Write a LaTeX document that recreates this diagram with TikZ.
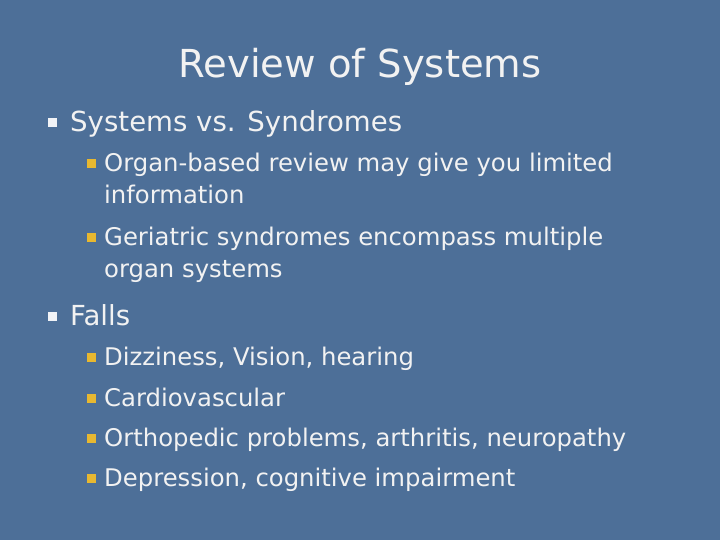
\documentclass[tikz,border=0pt]{standalone}
\usepackage{fontspec}
\setmainfont{DejaVu Sans}
\definecolor{bg}{HTML}{4D6F98}
\definecolor{txt}{HTML}{F2F2F2}
\definecolor{bul}{HTML}{E8B830}
\begin{document}
\begin{tikzpicture}[x=1bp,y=-1bp,
  lone/.style={anchor=base west,text=txt,font=\fontsize{27.7}{30}\selectfont,inner sep=0},
  ltwo/.style={anchor=base west,text=txt,font=\fontsize{24.4}{27}\selectfont,inner sep=0},
  bone/.style={fill=white!92!bg,minimum size=9bp,inner sep=0},
  btwo/.style={fill=bul,minimum size=9bp,inner sep=0}]
\fill[bg] (0,0) rectangle (720,540);
\useasboundingbox (0,0) rectangle (720,540);
\node[text=txt,font=\fontsize{38.7}{40}\selectfont,inner sep=0,anchor=base] (title) at (360,78) {Review of Systems};
\node[bone] (b1) at (52,123) {};
\node[lone] (t1) at (70,132) {Systems vs. Syndromes};
\node[btwo] (b11) at (91,164) {};
\node[ltwo] (t11) at (104,172) {Organ-based review may give you limited};
\node[ltwo] (t11b) at (104,204) {information};
\node[btwo] (b12) at (91,238) {};
\node[ltwo] (t12) at (104,246) {Geriatric syndromes encompass multiple};
\node[ltwo] (t12b) at (104,278) {organ systems};
\node[bone] (b2) at (52,316) {};
\node[lone] (t2) at (70,325) {Falls};
\node[btwo] (b21) at (91,357) {};
\node[ltwo] (t21) at (104,365) {Dizziness, Vision, hearing};
\node[btwo] (b22) at (91,398) {};
\node[ltwo] (t22) at (104,406) {Cardiovascular};
\node[btwo] (b23) at (91,438) {};
\node[ltwo] (t23) at (104,446) {Orthopedic problems, arthritis, neuropathy};
\node[btwo] (b24) at (91,478) {};
\node[ltwo] (t24) at (104,486) {Depression, cognitive impairment};
\end{tikzpicture}
\end{document}
